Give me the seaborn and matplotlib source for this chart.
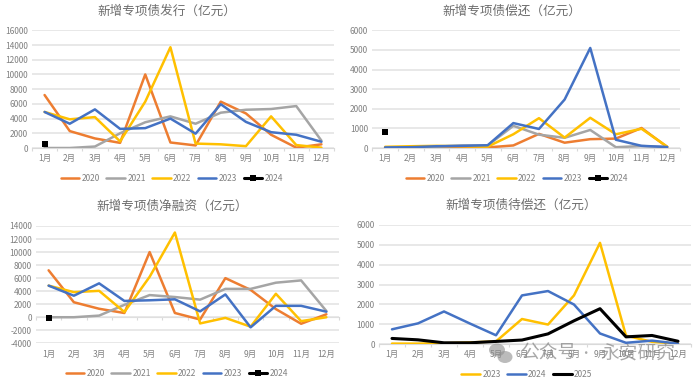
import matplotlib
matplotlib.use("Agg")
import matplotlib.pyplot as plt
from matplotlib.patches import Ellipse
import seaborn as sns
import pandas as pd

sns.set_theme(style="white")
plt.rcParams['font.family'] = ['Noto Sans CJK SC', 'DejaVu Sans']
plt.rcParams['axes.unicode_minus'] = False

months = ["1月","2月","3月","4月","5月","6月","7月","8月","9月","10月","11月","12月"]

issue_2020 = [7200,2300,1300,700,10000,750,350,6300,4700,1800,50,500]
issue_2021 = [0,0,200,2000,3500,4300,3300,4800,5200,5300,5700,1000]
issue_2022 = [4900,3900,4200,900,6300,13700,600,500,250,4300,400,50]
issue_2023 = [4900,3300,5250,2600,2700,4000,1950,5950,3550,2150,1800,850]
issue_2024 = [550]

repay_2020 = [30,30,40,50,30,130,720,270,450,480,1020,50]
repay_2021 = [30,40,70,130,130,1130,680,520,920,40,100,50]
repay_2022 = [60,90,110,90,70,700,1520,530,1540,700,980,70]
repay_2023 = [30,40,90,110,140,1270,970,2470,5100,420,110,50]
repay_2024 = [800]

net_2020 = [7200,2300,1300,650,10000,650,-350,6000,4200,1250,-1000,450]
net_2021 = [0,0,250,1900,3400,3100,2700,4350,4350,5300,5650,950]
net_2022 = [4850,3850,4050,800,6200,13000,-950,-100,-1450,3600,-600,0]
net_2023 = [4850,3300,5200,2500,2600,2750,900,3500,-1550,1750,1750,850]
net_2024 = [-150]

due_2023 = [20,20,40,80,130,1260,980,2450,5100,420,110,20]
due_2024 = [740,1040,1640,1030,440,2450,2670,1990,530,60,170,20]
due_2025 = [280,210,60,60,130,200,510,1170,1780,360,430,140]

ORANGE, GRAY, YELLOW, BLUE, BLACK = "#ED7D31", "#A5A5A5", "#FFC000", "#4472C4", "#000000"
TXT = "#808080"
GRID = "#E2E2E2"
W, H = 698, 382

fig = plt.figure(figsize=(W/100, H/100), dpi=100, facecolor="white")

def panel(box, title, tcenter, series, yticks, ylim, lcenter):
    x0, x1, ytop, ybot = box
    ax = fig.add_axes([x0/W, 1-ybot/H, (x1-x0)/W, (ybot-ytop)/H])
    for name, vals, col, lw, single in series:
        df = pd.DataFrame({"month": months[:len(vals)], "value": vals})
        if single:
            sns.lineplot(data=df, x="month", y="value", ax=ax, color=col, lw=2.2,
                         marker="s", markersize=4.2, markeredgewidth=0, label=name, sort=False)
        else:
            sns.lineplot(data=df, x="month", y="value", ax=ax, color=col, lw=lw, label=name, sort=False)
    handles, labels = ax.get_legend_handles_labels()
    ax.legend().remove()
    ax.set_xlim(-0.5, 11.5)
    ax.set_ylim(*ylim)
    ax.set_xticks(range(12))
    ax.set_xticklabels(months)
    ax.set_yticks(yticks)
    ax.set_yticklabels([str(v) for v in yticks])
    ax.set_xlabel(""); ax.set_ylabel("")
    ax.grid(axis="y", color=GRID, lw=1.1)
    ax.set_axisbelow(True)
    for s in ("top", "left", "right", "bottom"):
        ax.spines[s].set_visible(False)
    ax.tick_params(axis="x", length=0, labelsize=6.1, labelcolor=TXT, pad=4.5)
    ax.tick_params(axis="y", length=0, labelsize=6.0, labelcolor=TXT, pad=3)
    # zero axis with small ticks between the categories
    zero = (0 - ylim[0]) / (ylim[1] - ylim[0])
    sec = ax.secondary_xaxis(zero)
    sec.set_xticks([i - 0.5 for i in range(13)])
    sec.set_xticklabels([])
    sec.tick_params(axis="x", length=2.5, width=0.8, color="#D9D9D9", direction="out")
    sec.spines["bottom"].set_color("#D9D9D9")
    sec.spines["bottom"].set_linewidth(0.8)
    sec.spines["top"].set_visible(False)
    sec.xaxis.set_ticks_position("bottom")
    sec.set_zorder(0)
    fig.text(tcenter[0]/W, 1-tcenter[1]/H, title, ha="center", va="center",
             fontsize=9.1, color="#6E6E6E")
    fig.legend(handles, labels, loc="center", bbox_to_anchor=(lcenter[0]/W, 1-(lcenter[1]+0.5)/H),
               ncol=len(labels), frameon=False, fontsize=6.0, labelcolor=TXT,
               handlelength=2.2, columnspacing=0.8, handletextpad=0.3, borderpad=0)
    return ax

s4 = lambda a,b,c,d,e: [("2020",a,ORANGE,1.8,False),("2021",b,GRAY,1.8,False),
                        ("2022",c,YELLOW,1.8,False),("2023",d,BLUE,1.8,False),("2024",e,BLACK,2.2,True)]

panel((32,334,30.3,148), "新增专项债发行（亿元）", (167,11),
      s4(issue_2020,issue_2021,issue_2022,issue_2023,issue_2024),
      list(range(0,16001,2000)), (0,16000), (172,178))
panel((372.3,680,30.3,148), "新增专项债偿还（亿元）", (512,11),
      s4(repay_2020,repay_2021,repay_2022,repay_2023,repay_2024),
      list(range(0,6001,1000)), (0,6000), (517,178))
panel((36,339,226,343.3), "新增专项债净融资（亿元）", (172,206),
      s4(net_2020,net_2021,net_2022,net_2023,net_2024),
      list(range(-4000,14001,2000)), (-4000,14000), (177,373))
panel((379,691,225,344), "新增专项债待偿还（亿元）", (521,205),
      [("2023",due_2023,YELLOW,1.8,False),("2024",due_2024,BLUE,1.8,False),("2025",due_2025,BLACK,2.2,False)],
      list(range(0,6001,1000)), (0,6000), (527,374))

# watermark
for cx, cy, rx, ry in ((497,350,8,6.5),(505,357,7.5,6)):
    fig.add_artist(Ellipse((cx/W, 1-cy/H), 2*rx/W, 2*ry/H, transform=fig.transFigure,
                           facecolor="#8F8F8F", edgecolor="none", alpha=0.6, zorder=5))
fig.text(520/W, 1-353/H, "公众号", fontsize=13.5, color="#858585", alpha=0.7, va="center", ha="left", zorder=6)
fig.text(585/W, 1-353/H, "·", fontsize=9, color="#858585", alpha=0.7, va="center", ha="center", zorder=6)
fig.text(600/W, 1-353/H, "永安研究", fontsize=13.5, color="#858585", alpha=0.7, va="center", ha="left", zorder=6)

fig.savefig("out.png", dpi=100, facecolor="white")
